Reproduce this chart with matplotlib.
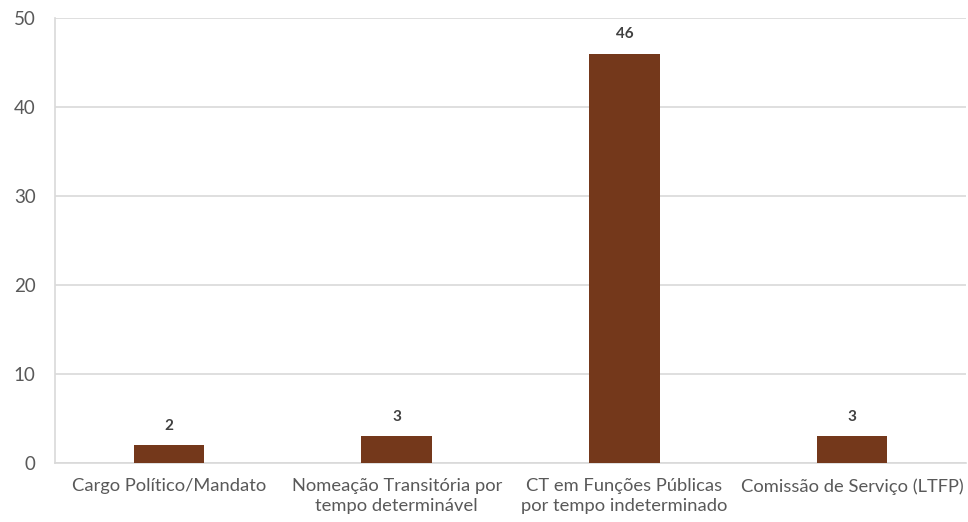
import matplotlib
matplotlib.use("Agg")
import matplotlib.pyplot as plt

plt.rcParams["font.family"] = ["Lato", "DejaVu Sans"]

categories = [
    "Cargo Político/Mandato",
    "Nomeação Transitória por\ntempo determinável",
    "CT em Funções Públicas\npor tempo indeterminado",
    "Comissão de Serviço (LTFP)",
]
values = [2, 3, 46, 3]
yticks = [0, 10, 20, 30, 40, 50]

BAR = "#74381B"
GRID = "#d9d9d9"

fig = plt.figure(figsize=(9.68, 5.22), dpi=100)
ax = fig.add_axes([0.057, 0.113, 0.941, 0.852])

x = range(len(categories))
bars = ax.bar(x, values, width=0.31, color=BAR, zorder=3)
for b, v in zip(bars, values):
    ax.text(b.get_x() + b.get_width() / 2, v + 1.4, f"{v}",
            ha="center", va="bottom", fontsize=11, fontweight="bold",
            color="#404040")

ax.set_xlim(-0.5, len(categories) - 0.5)
ax.set_ylim(0, 50)
ax.set_yticks(yticks)
ax.set_xticks(list(x))
ax.set_xticklabels(categories, linespacing=1.3)
ax.yaxis.grid(True, color=GRID, lw=1.2, zorder=0)
ax.tick_params(axis="y", length=0, pad=14, labelsize=13.5, labelcolor="#595959")
ax.tick_params(axis="x", length=0, pad=11, labelsize=13.2, labelcolor="#595959")
for s in ["top", "right"]:
    ax.spines[s].set_visible(False)
ax.spines["left"].set_color(GRID)
ax.spines["left"].set_linewidth(1.2)
ax.spines["bottom"].set_color(GRID)
ax.spines["bottom"].set_linewidth(1.2)

fig.savefig("out.png", dpi=100)
